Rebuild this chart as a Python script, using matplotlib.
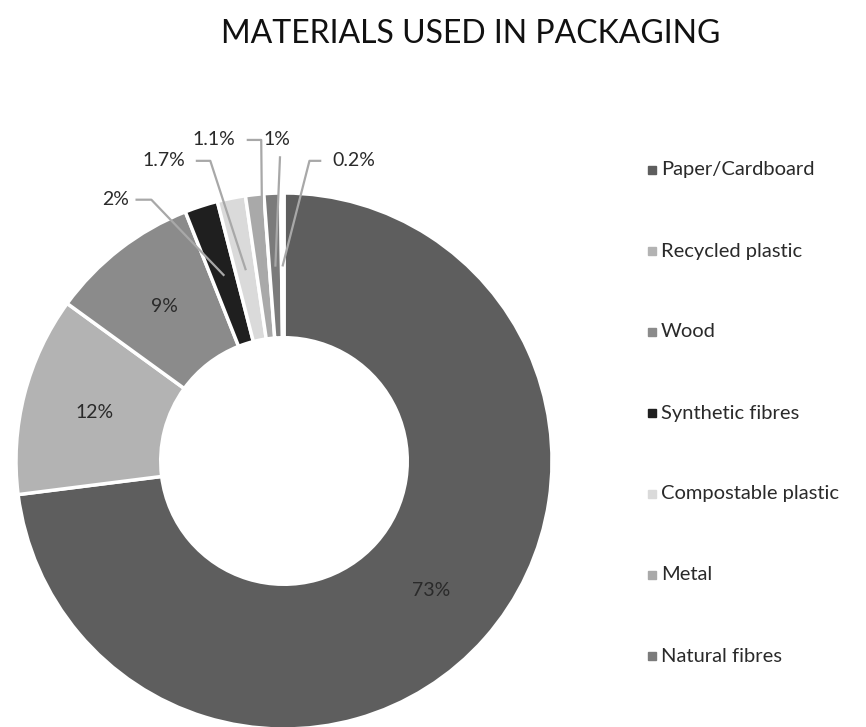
import numpy as np
import matplotlib
matplotlib.use("Agg")
import matplotlib.pyplot as plt
from matplotlib.patches import Rectangle

plt.rcParams["font.family"] = ["Lato", "DejaVu Sans"]

materials = [
    "Paper/Cardboard",
    "Recycled plastic",
    "Wood",
    "Synthetic fibres",
    "Compostable plastic",
    "Metal",
    "Natural fibres",
    "Other",
]
shares = [73, 12, 9, 2, 1.7, 1.1, 1, 0.2]
share_labels = ["73%", "12%", "9%", "2%", "1.7%", "1.1%", "1%", "0.2%"]
colors = ["#5e5e5e", "#b3b3b3", "#8b8b8b", "#1f1f1f",
          "#dadada", "#a9a9a9", "#7b7b7b", "#6a6a6a"]

# outside labels for the thin slices: (text x, text y, elbow length, side)
outside = {
    3: (-0.63, 0.975, 0.055, "left"),
    4: (-0.45, 1.12, 0.05, "left"),
    5: (-0.26, 1.198, 0.05, "left"),
    6: (-0.025, 1.198, 0.0, "top"),
    7: (0.26, 1.12, 0.04, "right"),
}

W, H = 866, 727
R_PX = 268
CX, CY = 284, 461

fig = plt.figure(figsize=(W / 100, H / 100), dpi=100)
ax = fig.add_axes([0, 0, 1, 1])

wedges, _ = ax.pie(
    shares,
    colors=colors,
    startangle=90,
    counterclock=False,
    radius=1.0,
    wedgeprops=dict(width=0.54, edgecolor="white", linewidth=2.5),
)
ax.set_xlim(-CX / R_PX, (W - CX) / R_PX)
ax.set_ylim(-(H - CY) / R_PX, CY / R_PX)
ax.set_aspect("equal")
ax.axis("off")

label_r = 0.73
text_color = "#2a2a2a"
line_color = "#a8a8a8"
for i, w in enumerate(wedges):
    mid = np.deg2rad((w.theta1 + w.theta2) / 2)
    px, py = label_r * np.cos(mid), label_r * np.sin(mid)
    if i not in outside:
        ax.text(px, py, share_labels[i], ha="center", va="center",
                fontsize=14, color=text_color)
        continue
    tx, ty, elbow, side = outside[i]
    ax.text(tx, ty, share_labels[i], ha="center", va="center",
            fontsize=14, color=text_color)
    half = 0.045 * len(share_labels[i]) / 2 + 0.035
    if side == "left":
        ax.plot([tx + half, tx + half + elbow, px], [ty, ty, py],
                color=line_color, lw=1.6)
    elif side == "right":
        ax.plot([tx - half, tx - half - elbow, px], [ty, ty, py],
                color=line_color, lw=1.6)
    else:
        ax.plot([tx + 0.01, px], [ty - 0.065, py], color=line_color, lw=1.6)

fig.text(471 / W, 1 - 34 / H, "MATERIALS USED IN PACKAGING",
         ha="center", va="center", fontsize=23, color="#111111")

# legend
for i, (name, c) in enumerate(zip(materials, colors)):
    y = 170 + 81 * i
    fig.patches.append(Rectangle((648 / W, 1 - (y + 4) / H), 8 / W, 8 / H,
                                 transform=fig.transFigure, color=c))
    fig.text(661 / W, 1 - y / H, name, ha="left", va="center",
             fontsize=14.5, color=text_color)

fig.savefig("out.png", dpi=100)
